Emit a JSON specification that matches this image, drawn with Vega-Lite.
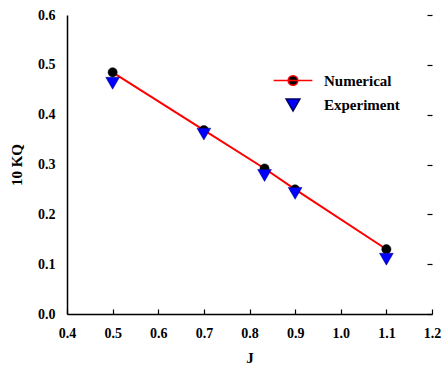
{
  "$schema": "https://vega.github.io/schema/vega-lite/v6.json",
  "width": 365,
  "height": 299,
  "autosize": "none",
  "padding": {"left": 67, "top": 15, "right": 11, "bottom": 58},
  "background": "white",
  "config": {
    "view": {"stroke": null},
    "font": "Liberation Serif",
    "legend": {
      "title": null,
      "orient": "none",
      "legendX": 218,
      "legendY": 58,
      "labelFont": "Liberation Serif",
      "labelFontWeight": "bold",
      "labelFontSize": 15,
      "labelColor": "black",
      "labelOffset": 23,
      "rowPadding": 7
    },
    "axis": {
      "grid": true,
      "gridColor": "black",
      "gridDash": [5, 2000],
      "gridWidth": 1.2,
      "gridOpacity": 1,
      "ticks": false,
      "domainColor": "black",
      "domainWidth": 1.5,
      "labelFont": "Liberation Serif",
      "labelFontWeight": "bold",
      "labelFontSize": 14,
      "labelColor": "black",
      "titleFont": "Liberation Serif",
      "titleFontWeight": "bold",
      "titleFontSize": 15,
      "titleColor": "black"
    }
  },
  "data": {
    "values": [
      {"J": 0.5, "K": 0.485, "series": "Numerical"},
      {"J": 0.7, "K": 0.369, "series": "Numerical"},
      {"J": 0.833, "K": 0.292, "series": "Numerical"},
      {"J": 0.9, "K": 0.250, "series": "Numerical"},
      {"J": 1.1, "K": 0.130, "series": "Numerical"},
      {"J": 0.5, "K": 0.463, "series": "Experiment"},
      {"J": 0.7, "K": 0.361, "series": "Experiment"},
      {"J": 0.833, "K": 0.278, "series": "Experiment"},
      {"J": 0.9, "K": 0.242, "series": "Experiment"},
      {"J": 1.1, "K": 0.110, "series": "Experiment"}
    ]
  },
  "resolve": {
    "axis": {"x": "independent", "y": "independent"},
    "scale": {"shape": "independent", "fill": "independent", "stroke": "independent", "size": "independent"},
    "legend": {"shape": "independent", "fill": "independent", "stroke": "independent", "size": "independent"}
  },
  "layer": [
    {
      "transform": [{"filter": "datum.series === 'Numerical'"}],
      "mark": {"type": "line", "color": "#ff0000", "strokeWidth": 2},
      "encoding": {
        "x": {
          "field": "J", "type": "quantitative",
          "scale": {"domain": [0.4, 1.2], "nice": false, "zero": false},
          "axis": {"orient": "bottom", "values": [0.4, 0.5, 0.6, 0.7, 0.8, 0.9, 1.0, 1.1, 1.2], "format": ".1f", "gridDashOffset": 1711, "labelPadding": 12, "title": "J", "titlePadding": 10, "labelFlush": false}
        },
        "y": {
          "field": "K", "type": "quantitative",
          "scale": {"domain": [0, 0.6], "nice": false},
          "axis": {"orient": "left", "values": [0, 0.1, 0.2, 0.3, 0.4, 0.5, 0.6], "format": ".1f", "gridDashOffset": 1645, "labelPadding": 12, "title": "10 KQ", "titlePadding": 13, "labelFlush": false}
        }
      }
    },
    {
      "transform": [{"filter": "datum.J > 5"}],
      "mark": {"type": "point", "filled": true, "opacity": 1, "strokeWidth": 1.5},
      "encoding": {
        "x": {"field": "J", "type": "quantitative", "axis": null},
        "y": {"field": "K", "type": "quantitative", "axis": null},
        "shape": {
          "field": "series", "type": "nominal",
          "scale": {"domain": ["Numerical", "Experiment"], "range": ["M-4.2,0H4.2M1.05,0A1.05,1.05 0 1 1 -1.05,0A1.05,1.05 0 1 1 1.05,0Z", "triangle-down"]}
        },
        "fill": {
          "field": "series", "type": "nominal",
          "scale": {"domain": ["Numerical", "Experiment"], "range": ["black", "#0000ff"]}
        },
        "size": {
          "field": "series", "type": "nominal",
          "scale": {"domain": ["Numerical", "Experiment"], "range": [85, 190]}
        },
        "stroke": {
          "field": "series", "type": "nominal",
          "scale": {"domain": ["Numerical", "Experiment"], "range": ["#ff0000", "#000060"]}
        }
      }
    },
    {
      "mark": {"type": "point", "filled": true, "opacity": 1},
      "encoding": {
        "x": {"field": "J", "type": "quantitative", "axis": null},
        "y": {"field": "K", "type": "quantitative", "axis": null},
        "shape": {
          "field": "series", "type": "nominal", "legend": null,
          "scale": {"domain": ["Numerical", "Experiment"], "range": ["circle", "triangle-down"]}
        },
        "fill": {
          "field": "series", "type": "nominal", "legend": null,
          "scale": {"domain": ["Numerical", "Experiment"], "range": ["black", "#0000ff"]}
        },
        "size": {
          "field": "series", "type": "nominal", "legend": null,
          "scale": {"domain": ["Numerical", "Experiment"], "range": [85, 190]}
        },
        "stroke": {
          "field": "series", "type": "nominal", "legend": null,
          "scale": {"domain": ["Numerical", "Experiment"], "range": ["black", "#000060"]}
        },
        "strokeWidth": {"value": 0.5}
      }
    }
  ]
}
